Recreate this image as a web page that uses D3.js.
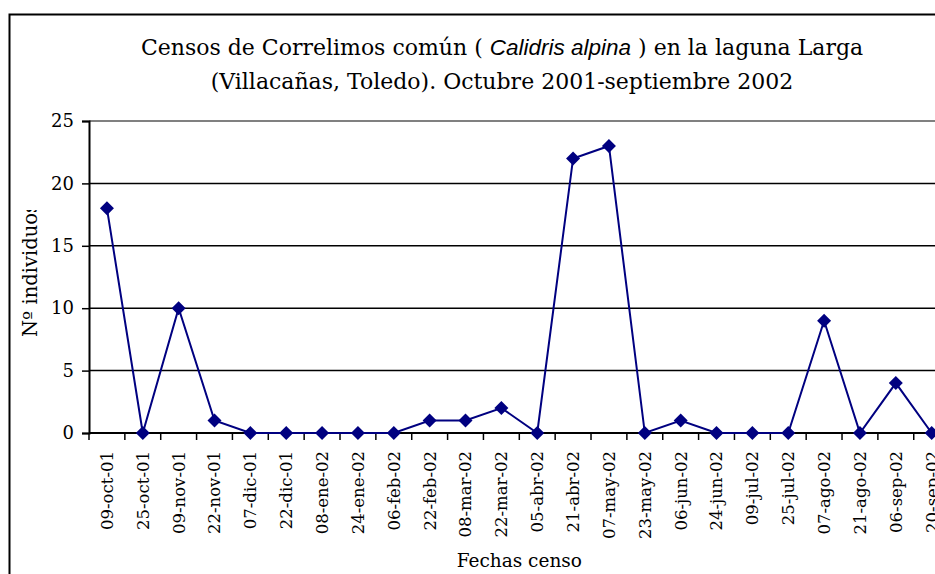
<!DOCTYPE html>
<html><head><meta charset="utf-8">
<script src="https://cdn.jsdelivr.net/npm/d3@7"></script>
<style>body{margin:0;background:#fff;overflow:hidden}
.serif{font-family:"DejaVu Serif"}</style>
</head><body><svg id="c" width="935" height="574"></svg>
<script>
const categories = ["09-oct-01","25-oct-01","09-nov-01","22-nov-01","07-dic-01","22-dic-01","08-ene-02","24-ene-02","06-feb-02","22-feb-02","08-mar-02","22-mar-02","05-abr-02","21-abr-02","07-may-02","23-may-02","06-jun-02","24-jun-02","09-jul-02","25-jul-02","07-ago-02","21-ago-02","06-sep-02","20-sep-02"];
const values = [18,0,10,1,0,0,0,0,0,1,1,2,0,22,23,0,1,0,0,0,9,0,4,0];
const yTicks = [0,5,10,15,20,25];
const titleLine1 = ["Censos de Correlimos común ( ","Calidris alpina"," ) en la laguna Larga"];
const titleLine2 = "(Villacañas, Toledo). Octubre 2001-septiembre 2002";
const xTitle = "Fechas censo";
const yTitle = "Nº individuos";

const svg = d3.select("#c");
const pL = 89, pR = 949.6, pT = 121, pB = 433;
const navy = "#000080";

const x = d3.scaleBand().domain(categories).range([pL, pR]).padding(0);
const y = d3.scaleLinear().domain([0,25]).range([pB, pT]);

// chart frame
svg.append("rect").attr("x",9.5).attr("y",14.5).attr("width",1200).attr("height",800)
  .attr("fill","#fff").attr("stroke","#000").attr("stroke-width",2);

// title
const t1 = svg.append("text").attr("class","serif").attr("x",502).attr("y",55).attr("text-anchor","middle")
  .style("white-space","pre").attr("font-size",22).attr("fill","#000");
t1.append("tspan").text(titleLine1[0]);
t1.append("tspan").style("font-family","Liberation Sans").attr("font-style","italic").attr("font-size",22.5).text(titleLine1[1]);
t1.append("tspan").text(titleLine1[2]);
svg.append("text").attr("class","serif").attr("x",502).attr("y",89).attr("text-anchor","middle")
  .attr("font-size",22).attr("fill","#000").text(titleLine2);

// gridlines
svg.append("g").selectAll("line").data(yTicks.filter(d=>d>0)).join("line")
  .attr("x1",pL).attr("x2",pR).attr("y1",d=>y(d)).attr("y2",d=>y(d))
  .attr("stroke",d=>d===25?"#808080":"#000").attr("stroke-width",d=>d===25?2:1.5);

// y axis
const yAxis = svg.append("g").attr("transform",`translate(${pL},0)`)
  .call(d3.axisLeft(y).tickValues(yTicks).tickSize(7).tickPadding(8));
yAxis.attr("font-family",null).attr("font-size",null);
yAxis.select(".domain").attr("stroke","#000").attr("stroke-width",2);
yAxis.selectAll(".tick line").attr("stroke","#000").attr("stroke-width",1.5);
yAxis.selectAll("text").attr("class","serif").attr("font-size",18).attr("fill","#000");

// x axis (ticks at category boundaries)
const xfs = 16.5;
const bounds = d3.range(categories.length+1).map(i => pL + i*x.bandwidth());
svg.append("line").attr("x1",pL).attr("x2",pR).attr("y1",pB).attr("y2",pB)
  .attr("stroke","#000").attr("stroke-width",2);
svg.append("g").selectAll("line").data(bounds).join("line")
  .attr("x1",d=>d).attr("x2",d=>d).attr("y1",pB).attr("y2",pB+7)
  .attr("stroke","#000").attr("stroke-width",1.5);
svg.append("g").selectAll("text").data(categories).join("text")
  .attr("class","serif")
  .attr("transform",d=>`translate(${x(d)+x.bandwidth()/2+xfs*0.36},${pB+18}) rotate(-90)`)
  .attr("text-anchor","end").attr("font-size",xfs).attr("fill","#000")
  .text(d=>d);

// line + markers
const cx = d => x(d) + x.bandwidth()/2;
svg.append("path").datum(values.map((v,i)=>[cx(categories[i]),y(v)]))
  .attr("d",d3.line()).attr("fill","none").attr("stroke",navy).attr("stroke-width",2);
svg.append("g").selectAll("path").data(values).join("path")
  .attr("transform",(v,i)=>`translate(${cx(categories[i])},${y(v)})`)
  .attr("d","M0,-7L7,0L0,7L-7,0Z").attr("fill",navy);

// axis titles
svg.append("text").attr("class","serif").attr("x",(pL+pR)/2).attr("y",567).attr("text-anchor","middle")
  .attr("font-size",18.5).attr("fill","#000").text(xTitle);
svg.append("clipPath").attr("id","yclip").append("rect").attr("x",0).attr("y",210).attr("width",60).attr("height",200);
svg.append("g").attr("clip-path","url(#yclip)")
  .append("text").attr("class","serif")
  .attr("transform",`translate(37,337) rotate(-90)`).attr("text-anchor","start")
  .attr("font-size",19.5).attr("fill","#000").text(yTitle);
</script></body></html>
